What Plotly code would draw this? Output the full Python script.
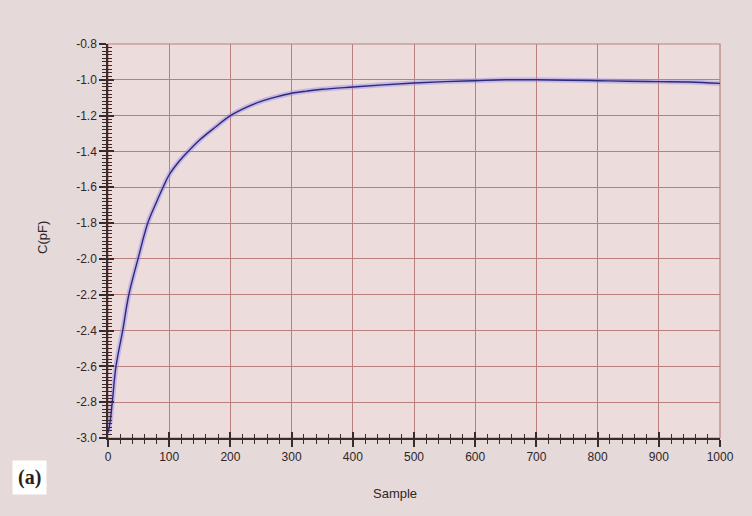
import plotly.graph_objects as go

# Data
samples = [0, 3, 7, 13, 24, 34, 49, 65, 77, 90, 100, 115, 131, 150, 175, 200, 225, 250,
           275, 300, 325, 350, 400, 450, 500, 550, 600, 650, 700, 750, 800, 850, 900, 950,
           1000]
cap_pf = [-2.97, -2.92, -2.80, -2.60, -2.40, -2.20, -2.00, -1.80, -1.70, -1.60, -1.53,
          -1.46, -1.40, -1.335, -1.265, -1.20, -1.155, -1.12, -1.095, -1.075, -1.063,
          -1.053, -1.04, -1.028, -1.018, -1.01, -1.005, -1.0, -1.0, -1.002, -1.005,
          -1.008, -1.01, -1.012, -1.02]
x_ticks = [0, 100, 200, 300, 400, 500, 600, 700, 800, 900, 1000]
y_ticks = [-3.0, -2.8, -2.6, -2.4, -2.2, -2.0, -1.8, -1.6, -1.4, -1.2, -1.0, -0.8]
y_tick_labels = ["-3.0", "-2.8", "-2.6", "-2.4", "-2.2", "-2.0", "-1.8", "-1.6",
                 "-1.4", "-1.2", "-1.0", "-0.8"]

grid_col = "#b98080"
axis_col = "#3a2a2a"
paper_col = "#e6d9d9"
font_fam = "Liberation Sans, Arial, sans-serif"

fig = go.Figure()
# halo
fig.add_trace(go.Scatter(x=samples, y=cap_pf, mode="lines",
                         line=dict(color="rgba(150,135,235,0.45)", width=5, shape="spline",
                                   smoothing=1.0),
                         hoverinfo="skip", showlegend=False))
# core line
fig.add_trace(go.Scatter(x=samples, y=cap_pf, mode="lines",
                         line=dict(color="#2b2a78", width=1.4, shape="spline", smoothing=1.0),
                         showlegend=False))
# invisible trace for the overlay axes (inside tick halves)
fig.add_trace(go.Scatter(x=[x_ticks[0]], y=[y_ticks[0]], xaxis="x2", yaxis="y2",
                         mode="markers", marker=dict(opacity=0), hoverinfo="skip",
                         showlegend=False))

common_x = dict(range=[0, 1000], tickvals=x_ticks)
common_y = dict(range=[-3.0, -0.8], tickvals=y_ticks)

fig.update_layout(
    width=752, height=516,
    margin=dict(l=108, r=32, t=44, b=78),
    paper_bgcolor=paper_col,
    plot_bgcolor="#ecdcdc",
    font=dict(family=font_fam, size=12, color="#2e2626"),
    xaxis=dict(**common_x, ticktext=[str(v) for v in x_ticks],
               showgrid=True, gridcolor=grid_col, gridwidth=1.2,
               showline=True, linecolor=axis_col, linewidth=1.5,
               ticks="outside", ticklen=7, tickwidth=1.5, tickcolor=axis_col,
               minor=dict(dtick=20, ticks="outside", ticklen=4, tickwidth=1.3,
                          tickcolor=axis_col, showgrid=False),
               zeroline=False, tickfont=dict(size=12)),
    yaxis=dict(**common_y, ticktext=y_tick_labels,
               showgrid=True, gridcolor=grid_col, gridwidth=1.2,
               showline=True, linecolor=axis_col, linewidth=1.5,
               ticks="outside", ticklen=7, tickwidth=1.5, tickcolor=axis_col,
               minor=dict(dtick=0.02, ticks="outside", ticklen=4, tickwidth=1.3,
                          tickcolor=axis_col, showgrid=False),
               zeroline=False, tickfont=dict(size=12)),
    xaxis2=dict(**common_x, overlaying="x", side="bottom", showgrid=False,
                showticklabels=False, ticks="inside", ticklen=6, tickwidth=1.5,
                tickcolor=axis_col, zeroline=False,
                minor=dict(dtick=20, ticks="inside", ticklen=4, tickwidth=1.3,
                           tickcolor=axis_col)),
    yaxis2=dict(**common_y, overlaying="y", side="left", showgrid=False,
                showticklabels=False, ticks="inside", ticklen=6, tickwidth=1.5,
                tickcolor=axis_col, zeroline=False,
                minor=dict(dtick=0.02, ticks="inside", ticklen=4, tickwidth=1.3,
                           tickcolor=axis_col)),
    shapes=[dict(type="rect", xref="paper", yref="paper", x0=0, x1=1, y0=0, y1=1,
                 line=dict(color=grid_col, width=1.2), layer="below")],
    annotations=[
        dict(text="Sample", xref="paper", yref="paper", x=0.469, y=-0.142,
             showarrow=False, font=dict(size=13, color="#2e2626"),
             xanchor="center", yanchor="middle"),
        dict(text="C(pF)", xref="paper", yref="paper", x=-0.108, y=0.51,
             textangle=-90, showarrow=False, font=dict(size=13, color="#2e2626"),
             xanchor="center", yanchor="middle"),
        dict(text="<b>(a)</b>", xref="paper", yref="paper", x=-0.128, y=-0.10,
             showarrow=False, bgcolor="#ffffff", borderpad=5,
             font=dict(family="Liberation Serif, Times New Roman, serif", size=20,
                       color="#2a2020"),
             xanchor="center", yanchor="middle"),
    ],
)

fig.write_html(
    "out.html",
    config={"displayModeBar": False},
    post_script="document.body.style.margin='0';document.body.style.padding='0';"
                "document.body.style.background='" + paper_col + "';",
)
